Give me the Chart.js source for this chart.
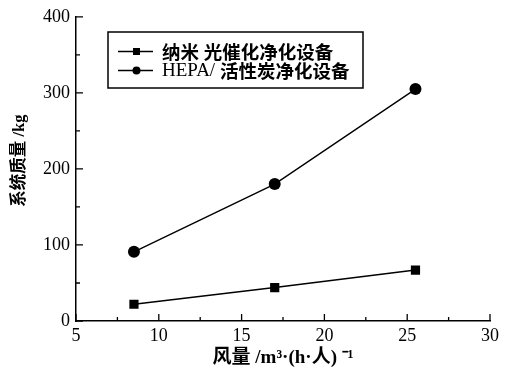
<!DOCTYPE html>
<html>
<head>
<meta charset="utf-8">
<script src="https://cdn.jsdelivr.net/npm/chart.js@4/dist/chart.umd.min.js"></script>
<style>
  html, body { margin: 0; padding: 0; background: #fff; }
  #wrap { width: 505px; height: 369px; }
</style>
</head>
<body>
<div id="wrap"><canvas id="chart" width="505" height="369"></canvas></div>
<script>
// Data
const flowRates = [8.5, 17, 25.5];
const nanoMass = [22, 44, 67];
const hepaMass = [91, 180, 305];
const seriesNames = ['纳米 光催化净化设备', 'HEPA/ 活性炭净化设备'];
const xTitle = '风量 /m³·(h·人) ⁻¹';
const yTitle = '系统质量 /kg';

const serif = "'Liberation Serif', 'Noto Sans CJK SC'";

const toPoints = (xs, ys) => xs.map((x, i) => ({ x: x, y: ys[i] }));

// inward ticks (major + minor), drawn through the scales
const innerTicks = {
  id: 'innerTicks',
  afterDraw(chart) {
    const ctx = chart.ctx;
    const xs = chart.scales.x;
    const ys = chart.scales.y;
    const area = chart.chartArea;
    ctx.save();
    ctx.strokeStyle = '#000';
    ctx.lineWidth = 1.3;
    ctx.beginPath();
    for (let v = xs.min; v <= xs.max + 1e-9; v += 2.5) {
      const px = xs.getPixelForValue(v);
      const len = (v % 5 === 0) ? 7 : 4;
      ctx.moveTo(px, area.bottom);
      ctx.lineTo(px, area.bottom - len);
    }
    for (let v = ys.min; v <= ys.max + 1e-9; v += 50) {
      const py = ys.getPixelForValue(v);
      const len = (v % 100 === 0) ? 7 : 4;
      ctx.moveTo(area.left, py);
      ctx.lineTo(area.left + len, py);
    }
    ctx.stroke();
    ctx.restore();
  }
};

// framed legend inside the plot
const boxLegend = {
  id: 'boxLegend',
  afterDraw(chart) {
    const ctx = chart.ctx;
    const box = { x: 108, y: 32, w: 255, h: 56 };
    ctx.save();
    ctx.strokeStyle = '#000';
    ctx.lineWidth = 1.5;
    ctx.strokeRect(box.x, box.y, box.w, box.h);
    chart.data.datasets.forEach((ds, i) => {
      const cy = box.y + 19.5 + i * 19;
      ctx.beginPath();
      ctx.moveTo(box.x + 10, cy);
      ctx.lineTo(box.x + 45, cy);
      ctx.lineWidth = 1.3;
      ctx.stroke();
      ctx.fillStyle = '#000';
      if (ds.pointStyle === 'rect') {
        ctx.fillRect(box.x + 25, cy - 3.5, 7, 7);
      } else {
        ctx.beginPath();
        ctx.arc(box.x + 28.5, cy, 4, 0, Math.PI * 2);
        ctx.fill();
      }
      // latin in serif, CJK in bold sans
      let tx = box.x + 54;
      ctx.textBaseline = 'middle';
      const parts = ds.label.match(/[\u4e00-\u9fff]+|[^\u4e00-\u9fff]+/g);
      parts.forEach(p => {
        const cjk = /[\u4e00-\u9fff]/.test(p);
        ctx.font = cjk ? "bold 18.5px 'Noto Sans CJK SC'" : "19px 'Liberation Serif'";
        ctx.fillText(p, tx, cy + (cjk ? 0 : 1));
        tx += ctx.measureText(p).width;
      });
    });
    ctx.restore();
  }
};

new Chart(document.getElementById('chart'), {
  type: 'line',
  data: {
    datasets: [
      {
        label: seriesNames[0],
        data: toPoints(flowRates, nanoMass),
        borderColor: '#000',
        backgroundColor: '#000',
        borderWidth: 1.4,
        pointStyle: 'rect',
        pointRadius: 6.5,
        pointBorderWidth: 0
      },
      {
        label: seriesNames[1],
        data: toPoints(flowRates, hepaMass),
        borderColor: '#000',
        backgroundColor: '#000',
        borderWidth: 1.4,
        pointStyle: 'circle',
        pointRadius: 6,
        pointBorderWidth: 0
      }
    ]
  },
  options: {
    responsive: false,
    animation: false,
    layout: { padding: { top: 15, right: 15, left: 0, bottom: 0 } },
    plugins: {
      legend: { display: false },
      tooltip: { enabled: false }
    },
    scales: {
      x: {
        type: 'linear',
        min: 5,
        max: 30,
        afterFit: (s) => { s.height = 48; },
        ticks: {
          stepSize: 5,
          color: '#000',
          padding: 4,
          font: { family: serif, size: 18 }
        },
        grid: { drawOnChartArea: false, drawTicks: false },
        border: { color: '#000', width: 1.5 },
        title: {
          display: true,
          text: xTitle,
          color: '#000',
          font: { family: serif, size: 19, weight: 'bold' },
          padding: { top: 0, bottom: 0 }
        }
      },
      y: {
        min: 0,
        max: 400,
        afterFit: (s) => { s.width = 76; },
        ticks: {
          stepSize: 100,
          color: '#000',
          padding: 6,
          font: { family: serif, size: 18 }
        },
        grid: { drawOnChartArea: false, drawTicks: false },
        border: { color: '#000', width: 1.5 },
        title: {
          display: true,
          text: '    ' + yTitle,
          color: '#000',
          font: { family: serif, size: 16.5, weight: 'bold' },
          padding: { top: 10, bottom: 0 }
        }
      }
    }
  },
  plugins: [innerTicks, boxLegend]
});
</script>
</body>
</html>
